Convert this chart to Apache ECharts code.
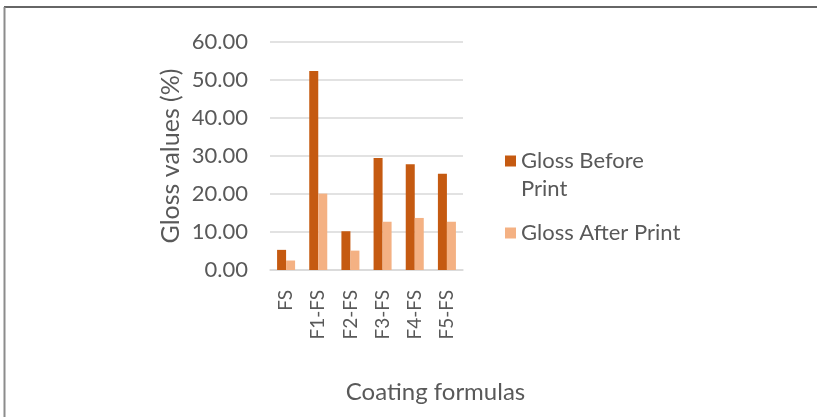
<!DOCTYPE html>
<html>
<head>
<meta charset="utf-8">
<script src="https://cdn.jsdelivr.net/npm/echarts@6/dist/echarts.min.js"></script>
<style>
  html, body { margin: 0; padding: 0; background: #fff; }
  #chart { width: 817px; height: 417px; }
</style>
</head>
<body>
<div id="chart"></div>
<script>
// Coating formulas and measured gloss (%)
const categories = ['FS', 'F1-FS', 'F2-FS', 'F3-FS', 'F4-FS', 'F5-FS'];
const glossBefore = [5.3, 52.4, 10.2, 29.5, 27.8, 25.3];
const glossAfter = [2.5, 20.1, 5.1, 12.7, 13.7, 12.7];
const seriesNames = ['Gloss Before Print', 'Gloss After Print'];
const yTicks = { min: 0, max: 60, step: 10 };

const FONT = 'Lato, "Open Sans", sans-serif';
const TEXT = '#595959';

const chart = echarts.init(document.getElementById('chart'), null, { renderer: 'canvas' });

chart.setOption({
  animation: false,
  backgroundColor: '#ffffff',
  textStyle: { fontFamily: FONT, color: TEXT },
  grid: { left: 270, right: 354, top: 42, bottom: 147, containLabel: false },
  legend: {
    orient: 'vertical',
    left: 500,
    top: 114,
    padding: 5,
    itemWidth: 11,
    itemHeight: 11,
    itemGap: 16,
    icon: 'rect',
    textStyle: { fontFamily: FONT, color: TEXT, fontSize: 22, lineHeight: 28 },
    // the long name wraps; a leading blank line keeps the swatch beside its first line
    formatter: function (name) {
      return name === seriesNames[0] ? '\nGloss Before\nPrint' : name;
    },
    data: seriesNames
  },
  xAxis: {
    type: 'category',
    data: categories,
    axisLine: { show: true, lineStyle: { color: '#d9d9d9', width: 1.5 } },
    axisTick: { show: false },
    axisLabel: { rotate: 90, margin: 20, fontSize: 19, color: TEXT, fontFamily: FONT }
  },
  yAxis: {
    type: 'value',
    min: yTicks.min,
    max: yTicks.max,
    interval: yTicks.step,
    name: 'Gloss values (%)',
    nameLocation: 'middle',
    nameGap: 87,
    nameTextStyle: { fontSize: 25, color: TEXT, fontFamily: FONT },
    axisLine: { show: false },
    axisTick: { show: false },
    splitLine: { lineStyle: { color: '#d9d9d9', width: 1.5 } },
    axisLabel: {
      margin: 22, fontSize: 22, color: TEXT, fontFamily: FONT,
      formatter: function (v) { return v.toFixed(2); }
    }
  },
  series: [
    {
      name: seriesNames[0],
      type: 'bar',
      data: glossBefore,
      itemStyle: { color: '#C55A11' },
      barGap: '0%',
      barCategoryGap: '44%'
    },
    {
      name: seriesNames[1],
      type: 'bar',
      data: glossAfter,
      itemStyle: { color: '#F4B183' }
    }
  ],
  graphic: [
    {
      type: 'text',
      x: 435.5,
      y: 392,
      style: {
        text: 'Coating formulas', font: '24px ' + FONT, fill: TEXT,
        align: 'center', verticalAlign: 'middle'
      }
    },
    {
      type: 'line',
      shape: { x1: 4, y1: 7, x2: 817, y2: 7 },
      style: { stroke: '#333333', lineWidth: 1.5 }
    },
    {
      type: 'line',
      shape: { x1: 4.5, y1: 7, x2: 4.5, y2: 417 },
      style: { stroke: '#8c8c8c', lineWidth: 2 }
    }
  ]
});
</script>
</body>
</html>
